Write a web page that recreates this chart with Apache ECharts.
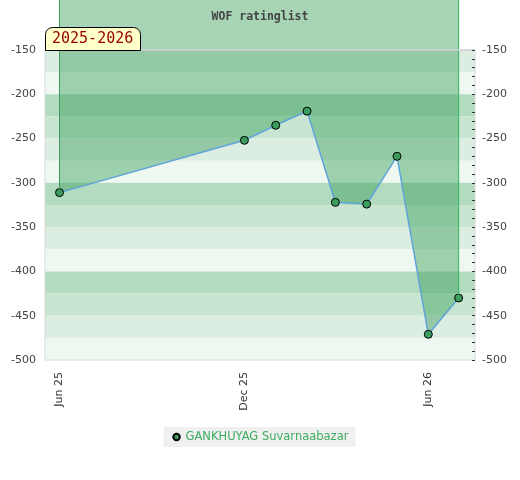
<!DOCTYPE html>
<html>
<head>
<meta charset="utf-8">
<script src="https://cdn.jsdelivr.net/npm/echarts@6/dist/echarts.min.js"></script>
<style>
html,body{margin:0;padding:0;background:#fff;}
#chart{width:520px;height:480px;}
</style>
</head>
<body>
<div id="chart"></div>
<script>
// ---- data ----
const playerName = 'GANKHUYAG Suvarnaabazar';
const chartTitle = 'WOF ratinglist';
const seasonLabel = '2025-2026';
const dates = ['2025-06-01','2025-12-01','2026-01-01','2026-02-01','2026-03-01','2026-04-01','2026-05-01','2026-06-01','2026-07-01'];
const ratings = [-311, -252, -235, -219, -322, -324, -270, -471, -430];
const xTickDates = ['2025-06-01','2025-12-01','2026-06-01'];
const yTickValues = [-150, -200, -250, -300, -350, -400, -450, -500];

// ---- styling / layout ----
const bandColors = ['#dcede2', '#eff7f1', '#b2dbbf', '#c8e5d1'];
const months = ['Jan','Feb','Mar','Apr','May','Jun','Jul','Aug','Sep','Oct','Nov','Dec'];
const yMin = -500, yTop = -150;
const yMax = yTop + 50 * (yTop - yMin) / 310; // axis extends above the banded area
const DAY = 86400000;
const ts = s => { const p = s.split('-').map(Number); return Date.UTC(p[0], p[1] - 1, p[2]); };
const xMin = ts('2025-06-01') - 14.35 * DAY;
const xMax = ts('2026-06-01') + 46.2 * DAY;

const seriesData = dates.map((d, i) => [ts(d), ratings[i]]);

const bands = [];
let k = 0;
for (let v = yTop; v > yMin; v -= 25, k++) {
  bands.push([{ yAxis: v, itemStyle: { color: bandColors[k % 4] } }, { yAxis: v - 25 }]);
}
const minorTicks = [];
for (let v = yMin; v <= yTop; v += 10) minorTicks.push(v);

const font = 'DejaVu Sans';
const chart = echarts.init(document.getElementById('chart'), null, { renderer: 'canvas' });
chart.setOption({
  animation: false,
  backgroundColor: '#fff',
  title: [
    { text: chartTitle, left: 'center', top: 6,
      textStyle: { fontFamily: 'DejaVu Sans Mono', fontWeight: 'bold', fontSize: 11.5, color: '#444' } },
    { text: seasonLabel, left: 45, top: 27, padding: [3, 7, 3, 7],
      backgroundColor: '#ffffcc', borderColor: '#000', borderWidth: 1, borderRadius: [7, 7, 0, 0],
      textStyle: { fontFamily: 'DejaVu Sans Mono', fontWeight: 'normal', fontSize: 15, color: '#990000', lineHeight: 18 } }
  ],
  legend: {
    data: [playerName], top: 427, left: 'center',
    backgroundColor: '#f0f0f0', padding: [4, 7, 4, 8],
    itemWidth: 8, itemHeight: 8, itemGap: 6,
    textStyle: { fontFamily: font, fontSize: 11.5, color: '#3cad5e' }
  },
  grid: { left: 45, right: 45, top: 0, bottom: 120 },
  xAxis: {
    type: 'value', min: xMin, max: xMax,
    axisLine: { show: false }, axisTick: { show: false }, splitLine: { show: false },
    axisLabel: {
      customValues: xTickDates.map(ts), rotate: 90, margin: 12,
      fontFamily: font, fontSize: 11, color: '#333',
      formatter: v => { const d = new Date(v); return months[d.getUTCMonth()] + ' ' + String(d.getUTCFullYear()).slice(2); }
    }
  },
  yAxis: [
    { type: 'value', min: yMin, max: yMax, position: 'left', z: 10,
      axisLine: { show: false }, axisTick: { show: false }, splitLine: { show: false },
      axisLabel: { customValues: yTickValues, margin: 9, fontFamily: font, fontSize: 11, color: '#444' } },
    { type: 'value', min: yMin, max: yMax, position: 'right', z: 10,
      axisLine: { show: false }, splitLine: { show: false },
      axisTick: { show: true, inside: true, length: 3, customValues: minorTicks, lineStyle: { color: '#333' } },
      axisLabel: { customValues: yTickValues, margin: 7, fontFamily: font, fontSize: 11, color: '#444' } }
  ],
  series: [
    { name: 'bands', type: 'line', data: seriesData, z: 1, silent: true,
      symbol: 'none', lineStyle: { opacity: 0 },
      markArea: { silent: true, data: bands } },
    { name: playerName, type: 'line', data: seriesData, z: 3,
      symbol: 'circle', symbolSize: 8,
      itemStyle: { color: '#3a9d5d', borderColor: '#000', borderWidth: 1 },
      lineStyle: { color: '#5ea3da', width: 1.5 },
      areaStyle: { origin: 'end', color: 'rgb(57,160,92)', opacity: 0.45 },
      markLine: { silent: true, symbol: 'none', label: { show: false },
        lineStyle: { color: '#d4d4d4', width: 1.5, type: 'solid' },
        data: [{ yAxis: yTop }] } },
    { name: 'edgeL', type: 'line', z: 4, silent: true, symbol: 'none',
      data: [[ts(dates[0]), yMax], [ts(dates[0]), ratings[0]]],
      lineStyle: { color: '#3f9860', width: 1 } },
    { name: 'edgeR', type: 'line', z: 4, silent: true, symbol: 'none',
      data: [[ts(dates[dates.length - 1]), yMax], [ts(dates[dates.length - 1]), ratings[ratings.length - 1]]],
      lineStyle: { color: '#2fb85a', width: 1 } },
    { name: 'frame', type: 'line', data: seriesData, z: 2, silent: true,
      symbol: 'none', lineStyle: { opacity: 0 },
      markArea: { silent: true, itemStyle: { color: 'rgba(0,0,0,0)', borderColor: '#d8d8d8', borderWidth: 1 },
        data: [[{ yAxis: yTop }, { yAxis: yMin }]] } }
  ]
});
</script>
</body>
</html>
